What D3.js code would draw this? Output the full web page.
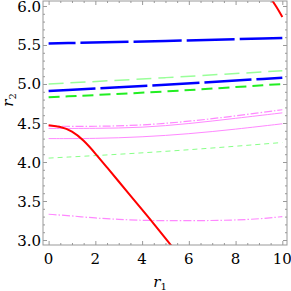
<!DOCTYPE html>
<html>
<head>
<script src="https://d3js.org/d3.v7.min.js"></script>
<style>
  body { margin: 0; background: #fff; }
</style>
</head>
<body>
<svg id="chart" width="291" height="291"></svg>
<script>
// values
var redX = [0, 0.5, 1, 1.5, 2, 2.5, 3, 3.5, 4, 4.5, 5, 5.3];
var redY = [4.47, 4.455, 4.40, 4.28, 4.11, 3.93, 3.75, 3.57, 3.39, 3.21, 3.02, 2.91];
var red2X = [9.5, 9.75, 10];
var red2Y = [6.1, 5.99, 5.86];

var linX = [0, 5, 10];
var blueTopY = [5.52, 5.55, 5.59];
var blueLowY = [4.91, 4.99, 5.08];
var lgreenTopY = [5.0, 5.08, 5.17];
var greenY = [4.83, 4.9, 5.0];
var lgreenLowY = [4.05, 4.13, 4.25];

var pinkX = [0, 2, 4, 6, 8, 10];
var pinkAY = [4.46, 4.455, 4.47, 4.52, 4.59, 4.67];
var pinkBY = [4.43, 4.43, 4.44, 4.49, 4.56, 4.63];
var pinkCY = [4.30, 4.30, 4.32, 4.36, 4.42, 4.49];
var pinkLowX = [0, 1, 2, 3, 4, 6, 8, 9, 10];
var pinkLowY = [3.33, 3.31, 3.28, 3.265, 3.25, 3.245, 3.255, 3.27, 3.30];

var xTicks = [0, 2, 4, 6, 8, 10];
var yTicks = [3.0, 3.5, 4.0, 4.5, 5.0, 5.5, 6.0];

var pL = 43, pR = 287, pT = 1, pB = 245;
var serif = "DejaVu Serif";
var svg = d3.select("#chart");

var x = d3.scaleLinear().domain([-0.24, 10.2]).range([pL, pR]);
var y = d3.scaleLinear().domain([2.936, 6.064]).range([pB, pT]);

function zip(xs, ys) { return xs.map(function(v, i) { return [v, ys[i]]; }); }

var series = [
  {d: zip(pinkX, pinkCY), c: "#ff88ff", w: 1, dash: null},
  {d: zip(pinkX, pinkBY), c: "#ff88ff", w: 1, dash: null},
  {d: zip(pinkX, pinkAY), c: "#ff88ff", w: 1.2, dash: "8,2,1.5,2"},
  {d: zip(pinkLowX, pinkLowY), c: "#ff88ff", w: 1.2, dash: "8,2,1.5,2"},
  {d: zip(linX, lgreenLowY), c: "#88ff88", w: 1, dash: "5,4"},
  {d: zip(linX, lgreenTopY), c: "#99ff99", w: 1.5, dash: "15,7"},
  {d: zip(linX, greenY), c: "#22ee22", w: 2, dash: "11,6"},
  {d: zip(linX, blueLowY), c: "#0000ff", w: 2.5, dash: "47,5"},
  {d: zip(linX, blueTopY), c: "#0000ff", w: 2.5, dash: "48,5", off: 21},
  {d: zip(redX, redY), c: "#ff0000", w: 2, dash: null},
  {d: zip(red2X, red2Y), c: "#ff0000", w: 2, dash: null}
];

svg.append("clipPath").attr("id", "clip")
  .append("rect").attr("x", pL).attr("y", pT).attr("width", pR - pL).attr("height", pB - pT);

var line = d3.line().x(function(d) { return x(d[0]); }).y(function(d) { return y(d[1]); })
  .curve(d3.curveBasis);

svg.append("g").attr("clip-path", "url(#clip)")
  .selectAll("path").data(series).enter().append("path")
  .attr("d", function(s) { return line(s.d); })
  .attr("fill", "none")
  .attr("stroke", function(s) { return s.c; })
  .attr("stroke-width", function(s) { return s.w; })
  .attr("stroke-dasharray", function(s) { return s.dash; })
  .attr("stroke-dashoffset", function(s) { return s.off || 0; });

// frame
svg.append("rect").attr("x", pL).attr("y", pT).attr("width", pR - pL).attr("height", pB - pT)
  .attr("fill", "none").attr("stroke", "#999").attr("stroke-width", 1);

// ticks on all four sides
var xMinor = d3.range(0, 10.01, 0.5).filter(function(v) { return v % 2 !== 0; });
var yMinor = d3.range(29, 61, 1).map(function(v) { return v / 10; })
  .filter(function(v) { return v >= 2.936 && v <= 6.064 && Math.round(v * 10) % 5 !== 0; });

function tickAxis(axis, scale, len, tv) {
  return axis(scale).tickValues(tv).tickSize(len).tickFormat("");
}
function drawTicks(g) {
  g.select(".domain").remove();
  g.selectAll("line").attr("stroke", "#999");
}
svg.append("g").attr("transform", "translate(0," + pB + ")").call(tickAxis(d3.axisTop, x, 4, xTicks)).call(drawTicks);
svg.append("g").attr("transform", "translate(0," + pB + ")").call(tickAxis(d3.axisTop, x, 2, xMinor)).call(drawTicks);
svg.append("g").attr("transform", "translate(0," + pT + ")").call(tickAxis(d3.axisBottom, x, 4, xTicks)).call(drawTicks);
svg.append("g").attr("transform", "translate(0," + pT + ")").call(tickAxis(d3.axisBottom, x, 2, xMinor)).call(drawTicks);
svg.append("g").attr("transform", "translate(" + pL + ",0)").call(tickAxis(d3.axisRight, y, 4, yTicks)).call(drawTicks);
svg.append("g").attr("transform", "translate(" + pL + ",0)").call(tickAxis(d3.axisRight, y, 2, yMinor)).call(drawTicks);
svg.append("g").attr("transform", "translate(" + pR + ",0)").call(tickAxis(d3.axisLeft, y, 4, yTicks)).call(drawTicks);
svg.append("g").attr("transform", "translate(" + pR + ",0)").call(tickAxis(d3.axisLeft, y, 2, yMinor)).call(drawTicks);

// tick labels
svg.append("g").selectAll("text").data(xTicks).enter().append("text")
  .attr("x", function(d) { return x(d); }).attr("y", 264)
  .attr("text-anchor", "middle").attr("font-size", 15).attr("font-family", serif)
  .text(function(d) { return d; });
svg.append("g").selectAll("text").data(yTicks).enter().append("text")
  .attr("x", 41).attr("y", function(d) { return Math.max(y(d) + 5.5, 11.5); })
  .attr("text-anchor", "end").attr("font-size", 15).attr("font-family", serif)
  .text(function(d) { return d.toFixed(1); });

// axis labels
var xl = svg.append("text").attr("x", 160).attr("y", 287).attr("text-anchor", "middle")
  .attr("font-size", 15).attr("font-style", "italic").attr("font-family", serif);
xl.append("tspan").text("r");
xl.append("tspan").attr("font-size", 10).attr("font-style", "normal").attr("dy", 3).text("1");

var yl = svg.append("text").attr("transform", "translate(13,100) rotate(-90)").attr("text-anchor", "middle")
  .attr("font-size", 15).attr("font-style", "italic").attr("font-family", serif);
yl.append("tspan").text("r");
yl.append("tspan").attr("font-size", 10).attr("font-style", "normal").attr("dy", 3).text("2");
</script>
</body>
</html>
